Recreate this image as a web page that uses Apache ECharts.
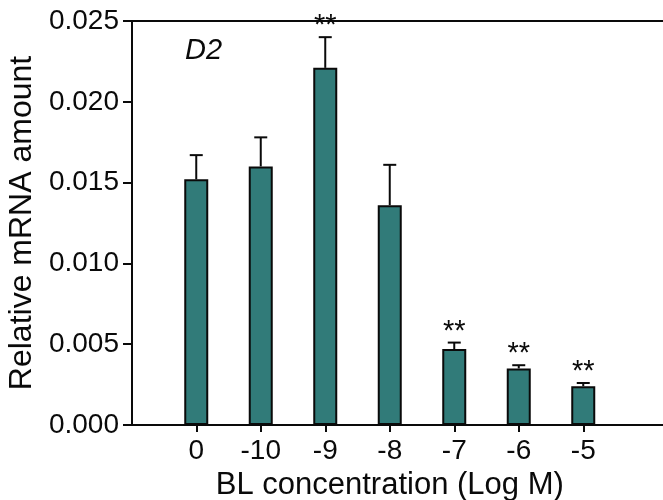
<!DOCTYPE html>
<html>
<head>
<meta charset="utf-8">
<script src="https://cdn.jsdelivr.net/npm/echarts@6/dist/echarts.min.js"></script>
<style>
  html, body { margin: 0; padding: 0; background: #fff; }
  #chart { width: 663px; height: 500px; }
</style>
</head>
<body>
<div id="chart"></div>
<script>
  var categories = ['0', '-10', '-9', '-8', '-7', '-6', '-5'];
  var means = [0.0152, 0.0160, 0.0221, 0.0136, 0.0047, 0.0035, 0.0024];
  var errors = [0.0015, 0.0018, 0.0019, 0.0025, 0.0004, 0.0002, 0.0002];
  var stars = ['', '', '**', '', '**', '**', '**'];

  var font = 'Liberation Sans, Arial, sans-serif';
  var barColor = '#317b79';
  var ink = '#0a0a0a';

  var myChart = echarts.init(document.getElementById('chart'));

  var errData = categories.map(function (c, i) {
    return [i, means[i], errors[i]];
  });

  myChart.setOption({
    animation: false,
    title: {
      text: 'D2',
      left: 180,
      top: 31,
      textStyle: {fontFamily: font, fontSize: 29, fontStyle: 'italic', fontWeight: 'normal', color: ink}
    },
    grid: [
      {left: 132, right: 0, top: 21, bottom: 75, outerBoundsMode: 'none'},
      {left: 164, width: 451.5, top: 21, bottom: 75, outerBoundsMode: 'none'}
    ],
    xAxis: [
      {
        gridIndex: 0, type: 'value', min: 0, max: 1, position: 'bottom',
        axisLine: {show: true, lineStyle: {color: ink, width: 2}},
        axisTick: {show: false}, axisLabel: {show: false}, splitLine: {show: false}
      },
      {
        gridIndex: 0, type: 'value', min: 0, max: 1, position: 'top',
        axisLine: {show: true, lineStyle: {color: ink, width: 2}},
        axisTick: {show: false}, axisLabel: {show: false}, splitLine: {show: false}
      },
      {
        gridIndex: 1, type: 'category', data: categories, position: 'bottom',
        axisLine: {show: false},
        axisTick: {show: true, alignWithLabel: true, length: 7, lineStyle: {color: ink, width: 2}},
        axisLabel: {margin: 12, fontFamily: font, fontSize: 28, color: ink},
        name: 'BL concentration (Log M)',
        nameLocation: 'middle',
        nameGap: 42,
        nameTextStyle: {fontFamily: font, fontSize: 31, color: ink}
      }
    ],
    yAxis: [
      {
        gridIndex: 0, type: 'value', min: 0, max: 0.025, interval: 0.005,
        axisLine: {show: true, lineStyle: {color: ink, width: 2}},
        axisTick: {show: true, length: 9, lineStyle: {color: ink, width: 2}},
        axisLabel: {
          margin: 13, fontFamily: font, fontSize: 28, color: ink,
          formatter: function (v) { return v.toFixed(3); }
        },
        splitLine: {show: false},
        name: 'Relative mRNA amount',
        nameLocation: 'middle',
        nameGap: 92,
        nameTextStyle: {fontFamily: font, fontSize: 32, color: ink}
      },
      {
        gridIndex: 1, type: 'value', min: 0, max: 0.025, interval: 0.005, show: false
      }
    ],
    series: [
      {
        type: 'bar',
        xAxisIndex: 2,
        yAxisIndex: 1,
        barWidth: 24,
        itemStyle: {color: barColor, borderColor: ink, borderWidth: 2},
        data: means,
        z: 2
      },
      {
        type: 'custom',
        xAxisIndex: 2,
        yAxisIndex: 1,
        data: errData,
        z: 3,
        renderItem: function (params, api) {
          var i = api.value(0);
          var m = api.value(1);
          var e = api.value(2);
          var base = api.coord([i, m]);
          var top = api.coord([i, m + e]);
          var half = 6.5;
          var children = [
            {type: 'line', shape: {x1: base[0], y1: base[1], x2: top[0], y2: top[1]},
              style: {stroke: ink, lineWidth: 2}},
            {type: 'line', shape: {x1: top[0] - half, y1: top[1], x2: top[0] + half, y2: top[1]},
              style: {stroke: ink, lineWidth: 2}}
          ];
          var s = stars[params.dataIndex];
          if (s) {
            children.push({
              type: 'text',
              style: {
                text: s, x: top[0], y: top[1] - 11,
                align: 'center', verticalAlign: 'middle',
                fontFamily: font, fontSize: 29, fill: ink
              }
            });
          }
          return {type: 'group', children: children};
        }
      }
    ]
  });
</script>
</body>
</html>
